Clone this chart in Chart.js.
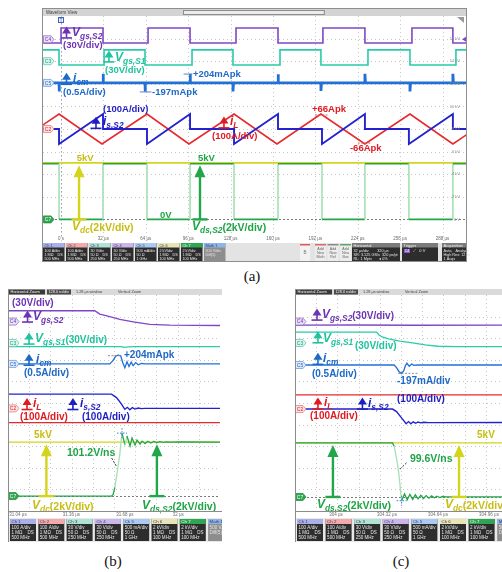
<!DOCTYPE html>
<html>
<head>
<meta charset="utf-8">
<title>Half-bridge switching waveforms</title>
<script src="https://cdn.jsdelivr.net/npm/chart.js@4.4.1/dist/chart.umd.min.js"></script>
<style>
  html, body { margin: 0; padding: 0; background: #fff; }
  body { position: relative; width: 502px; height: 572px; overflow: hidden; }
  .panel { position: absolute; }
  .panel canvas { display: block; }
  .cap { position: absolute; width: 40px; margin-left: -20px; text-align: center;
         font: 15px "Liberation Serif", "Times New Roman", serif; color: #111; }
</style>
</head>
<body>
<div class="panel" style="left:38px;top:8px"><canvas id="chartA" width="432" height="256"></canvas></div>
<div class="panel" style="left:4px;top:287px"><canvas id="chartB" width="218" height="258"></canvas></div>
<div class="panel" style="left:288px;top:287px"><canvas id="chartC" width="232" height="258"></canvas></div>
<div class="cap" style="left:252px;top:268px">(a)</div>
<div class="cap" style="left:113px;top:553px">(b)</div>
<div class="cap" style="left:401px;top:553px">(c)</div>
<script>
(function () {
  'use strict';

  // ---- values read off the scope screens: [time µs, value] ----
  // gate voltages in V, currents in A, voltages in kV

  // (a) full switching periods
  const aTicks = [0, 32, 64, 96, 128, 160, 192, 224, 256, 288];
  const aTickLabels = ['0 s', '32 µs', '64 µs', '96 µs', '128 µs', '160 µs', '192 µs', '224 µs', '256 µs', '288 µs'];
  const aVgsS2 = [[-14.4, -5], [0, -5], [0, 15], [31.7, 15], [31.7, -5], [65.7, -5], [65.7, 15], [97.4, 15], [97.4, -5],
    [132.1, -5], [132.1, 15], [163.8, 15], [163.8, -5], [197.7, -5], [197.7, 15], [229.4, 15], [229.4, -5],
    [264.9, -5], [264.9, 15], [295.8, 15], [295.8, -5], [306, -5]];
  const aVgsS1 = [[-14.4, 15], [-1.5, 15], [-1.5, -5], [32.5, -5], [32.5, 15], [63.4, 15], [63.4, -5], [98.9, -5],
    [98.9, 15], [129.8, 15], [129.8, -5], [165.3, -5], [165.3, 15], [196.2, 15], [196.2, -5], [231.7, -5],
    [231.7, 15], [263.4, 15], [263.4, -5], [298.1, -5], [298.1, 15], [306, 15]];
  const aIcm = [[-14.4, 0], [-1.5, 0], [-1.5, -0.19], [-1.1, 0], [31.7, 0], [31.7, 0.2], [32.1, 0], [63.4, 0],
    [63.4, -0.197], [63.8, 0], [97.4, 0], [97.4, 0.204], [97.8, 0], [129.8, 0], [129.8, -0.19], [130.2, 0],
    [163.8, 0], [163.8, 0.19], [164.2, 0], [196.2, 0], [196.2, -0.18], [196.6, 0], [229.4, 0], [229.4, 0.2],
    [229.8, 0], [263.4, 0], [263.4, -0.19], [263.8, 0], [295.8, 0], [295.8, 0.2], [296.2, 0], [306, 0]];
  const aIL = [[-14.4, 15], [-1.5, 66], [30.9, -66], [64.9, 66], [96.6, -66], [130.6, 66], [163, -66],
    [196.2, 66], [229.4, -66], [263.4, 66], [295.8, -66], [306, -26]];
  const aIsS2 = [[-14.4, 0], [-1.5, 0], [-1.5, -66], [31.7, 66], [31.7, 0], [64.9, 0], [64.9, -66], [97.4, 66],
    [97.4, 0], [130.6, 0], [130.6, -66], [163.8, 66], [163.8, 0], [197, 0], [197, -66], [229.4, 66], [229.4, 0],
    [262.6, 0], [262.6, -66], [295.8, 66], [295.8, 0], [306, 0]];
  const aVdc = [[-14.4, 5], [306, 5]];
  const aVds = [[-14.4, 4.93], [-1.5, 4.93], [-1.5, 0], [31.7, 0], [31.7, 4.93], [64.9, 4.93], [64.9, 0], [97.4, 0],
    [97.4, 4.93], [130.6, 4.93], [130.6, 0], [163.8, 0], [163.8, 4.93], [197, 4.93], [197, 0], [229.4, 0],
    [229.4, 4.93], [262.6, 4.93], [262.6, 0], [295.8, 0], [295.8, 4.93], [306, 4.93]];

  // (b) S2 turn-off, zoomed
  const bTicks = [31.04, 31.36, 31.68, 32];
  const bTickLabels = ['31.04 µs', '31.36 µs', '31.68 µs', '32 µs'];
  const bVgsS2 = [[30.9, 15], [31.5, 15], [31.53, 10.4], [31.59, 6.7], [31.65, 3], [31.73, -0.3], [31.83, -3.9],
    [31.95, -5], [32.3, -5.5]];
  const bVgsS1 = [[30.9, -5], [31.66, -5], [31.675, -6.2], [31.7, -5.5], [31.74, -5], [32.3, -5]];
  const bIcm = [[30.9, 0], [31.59, 0], [31.61, 0.08], [31.625, 0.18], [31.64, 0.204], [31.655, 0.19],
    [31.668, 0.02], [31.68, -0.09], [31.693, 0.05], [31.705, -0.06], [31.718, 0.04], [31.73, -0.04],
    [31.745, 0.03], [31.76, -0.02], [31.78, 0.01], [31.8, 0], [32.3, 0]];
  const bIsS2 = [[30.9, 66], [31.6, 66], [31.63, 50], [31.66, 20], [31.68, -4], [31.695, 5], [31.71, -6],
    [31.725, 4], [31.74, -3], [31.76, 2], [31.78, -1], [31.8, 0], [32.3, 0]];
  const bIL = [[30.9, -66], [32.3, -66]];
  const bVdc = [[30.9, 5], [32.3, 5]];
  const bVds = [[30.9, 0], [31.6, 0], [31.61, 0.15], [31.62, 0.8], [31.635, 2.3], [31.65, 3.9], [31.657, 5],
    [31.663, 5.83], [31.681, 4.72], [31.693, 5.56], [31.711, 4.63], [31.723, 5.37], [31.741, 4.72],
    [31.753, 5.19], [31.771, 4.81], [31.783, 5.09], [31.801, 4.86], [31.818, 5.08], [31.836, 4.92],
    [31.854, 5.06], [31.872, 4.95], [31.89, 5.04], [31.91, 4.97], [31.93, 5.02], [31.96, 4.99], [32, 5.01],
    [32.3, 5]];

  // (c) S2 turn-on, zoomed
  const cTicks = [304, 304.32, 304.64, 304.96];
  const cTickLabels = ['304 µs', '304.32 µs', '304.64 µs', '304.96 µs'];
  const cVgsS2 = [[303.7, -5], [304.1, -4.8], [304.5, -5.1], [305.1, -5]];
  const cVgsS1 = [[303.7, 15], [304.255, 15], [304.27, 11], [304.29, 8.3], [304.33, 5.5], [304.4, 2.5],
    [304.48, 0], [304.56, -2.8], [304.64, -4.6], [304.75, -5], [305.1, -5]];
  const cIcm = [[303.7, 0], [304.365, 0], [304.38, -0.06], [304.395, -0.15], [304.41, -0.197], [304.425, -0.14],
    [304.435, -0.02], [304.445, 0.04], [304.46, -0.03], [304.475, 0.02], [304.49, -0.01], [304.51, 0], [305.1, 0]];
  const cIsS2 = [[303.7, 0], [304.355, 0], [304.38, -12], [304.41, -40], [304.44, -68], [304.455, -58],
    [304.47, -68], [304.485, -59], [304.5, -66], [304.515, -60], [304.53, -64], [304.55, -61], [304.58, -63],
    [305.1, -62]];
  const cIL = [[303.7, 66], [305.1, 66]];
  const cVdc = [[303.7, 5], [305.1, 5]];
  const cVds = [[303.7, 5], [304.355, 5], [304.365, 4.7], [304.38, 3.6], [304.395, 2.1], [304.405, 0.6],
    [304.412, -0.35], [304.43, 0.28], [304.447, -0.26], [304.464, 0.24], [304.481, -0.22], [304.498, 0.2],
    [304.515, -0.18], [304.532, 0.16], [304.549, -0.14], [304.566, 0.13], [304.583, -0.11], [304.6, 0.1],
    [304.617, -0.08], [304.634, 0.07], [304.651, -0.05], [304.668, 0.04], [304.69, 0], [305.1, 0]];

  // channel readout boxes
  const chanNames = ['Ch 1', 'Ch 2', 'Ch 3', 'Ch 4', 'Ch 5', 'Ch 6', 'Ch 7', 'Math 1'];
  const chanRows = [
    ['100 A/div', '1 MΩ    DS', '500 MHz'], ['100 A/div', '1 MΩ    DS', '500 MHz'],
    ['30 V/div', '50 Ω    DS', '250 MHz'], ['30 V/div', '50 Ω    DS', '250 MHz'],
    ['500 mA/div', '50 Ω', '1 GHz'], ['2 kV/div', '1 MΩ    DS', '100 MHz'],
    ['2 kV/div', '1 MΩ    DS', '100 MHz'], ['500 V/div', 'Diff(5)', '']];
  const chanHeads = ['#aab0ea', '#f3aaaa', '#afe3d4', '#cab6eb', '#abc9f1', '#e8e4b4', '#2ea552', '#8fb5e6'];

  // vertical scales (per division)
  const VGS_DIV = 30, ICM_DIV = 0.5, AMP_DIV = 100, KV_DIV = 2;

  const FONT = '"Liberation Sans", Arial, Helvetica, sans-serif';
  const C = {
    purple: '#7f47c8', purpleTxt: '#6c34b4',
    teal: '#29cca7', tealTxt: '#1fc39d',
    blue: '#2170d6', blueTxt: '#1e69c6',
    dblue: '#2222cf', dblueTxt: '#1e1ec0',
    red: '#e6292d', redTxt: '#e01a20',
    yellow: '#d4d41c', yellowTxt: '#c8be12',
    green: '#22a64a', greenTxt: '#1fa446', greenEdge: '#a4e1b2'
  };

  // ---- small drawing helpers ----
  function seg(ctx, x0, y0, x1, y1) {
    ctx.beginPath(); ctx.moveTo(x0, y0); ctx.lineTo(x1, y1); ctx.stroke();
  }
  function tiny(ctx, s, x, y, color, size, align) {
    ctx.fillStyle = color;
    ctx.font = size + 'px ' + FONT;
    ctx.textAlign = align || 'left';
    ctx.textBaseline = 'middle';
    ctx.fillText(s, x, y);
  }
  function rich(ctx, x, y, parts, color, main, plain) {
    ctx.fillStyle = color; ctx.textAlign = 'left'; ctx.textBaseline = 'middle';
    let cx = x;
    parts.forEach(([s, k]) => {
      let size = plain, style = 'bold', dy = 0;
      if (k === 'i') { size = main; style = 'italic bold'; }
      if (k === 's') { size = main * 0.7; style = 'italic bold'; dy = main * 0.32; }
      if (k === 'n' && parts.length > 1) dy = 1;
      ctx.font = style + ' ' + size + 'px ' + FONT;
      ctx.fillText(s, cx, y + dy);
      cx += ctx.measureText(s).width;
    });
  }
  function upIcon(ctx, x, y, c) {
    ctx.strokeStyle = c; ctx.fillStyle = c; ctx.lineWidth = 1.6; ctx.setLineDash([]);
    seg(ctx, x - 5.5, y + 5, x + 5.5, y + 5);
    seg(ctx, x, y + 5, x, y - 1);
    ctx.beginPath(); ctx.moveTo(x - 4.5, y + 0.5); ctx.lineTo(x + 4.5, y + 0.5); ctx.lineTo(x, y - 6.5);
    ctx.closePath(); ctx.fill();
  }
  function bigArrow(ctx, x, yBase, yTip, c) {
    ctx.strokeStyle = c; ctx.fillStyle = c; ctx.lineWidth = 2.4; ctx.setLineDash([]);
    seg(ctx, x - 7.5, yBase, x + 7.5, yBase);
    seg(ctx, x, yBase, x, yTip + 10);
    ctx.beginPath(); ctx.moveTo(x - 5.5, yTip + 12); ctx.lineTo(x + 5.5, yTip + 12); ctx.lineTo(x, yTip);
    ctx.closePath(); ctx.fill();
  }
  function chMark(ctx, x, y, label, fill, stroke, ink) {
    ctx.setLineDash([]); ctx.lineWidth = 0.8;
    ctx.beginPath();
    ctx.moveTo(x, y - 3.5); ctx.lineTo(x + 7.5, y - 3.5); ctx.lineTo(x + 10.5, y);
    ctx.lineTo(x + 7.5, y + 3.5); ctx.lineTo(x, y + 3.5); ctx.closePath();
    ctx.fillStyle = fill; ctx.fill(); ctx.strokeStyle = stroke; ctx.stroke();
    tiny(ctx, label, x + 4.5, y + 0.3, ink, 5, 'center');
  }
  function chanBoxes(ctx, x0, y0, w, pitch, h, head) {
    chanNames.forEach((name, i) => {
      const x = x0 + i * pitch;
      ctx.fillStyle = i === 7 ? '#8d8d8d' : '#2d2d2d';
      ctx.fillRect(x, y0, w, h);
      ctx.fillStyle = chanHeads[i];
      ctx.fillRect(x, y0, w, head);
      tiny(ctx, name, x + 1.5, y0 + head / 2 + 0.3, i === 6 ? '#fff' : '#3a3a6a', head - 0.6);
      const step = (h - head - 1.5) / 3;
      chanRows[i].forEach((r, j) => tiny(ctx, r, x + 1.5, y0 + head + 1 + step * (j + 0.5), '#e6e6e6', step - 0.6));
    });
  }

  function makeTrace(points, off, perDiv, color, width, edge) {
    const set = {
      data: points.map(p => ({ x: p[0], y: off + p[1] / perDiv })),
      borderColor: color, borderWidth: width, pointRadius: 0, fill: false, tension: 0
    };
    if (edge) {
      // fast edges are faint on the scope screen
      set.segment = {
        borderColor: c => Math.abs(c.p1.y - c.p0.y) > 3 * Math.abs(c.p1.x - c.p0.x) + 3 ? edge : undefined
      };
    }
    return set;
  }

  const T = (t, d, c, parts, main, plain) => ({ k: 'txt', t, d, c, parts, main, plain });
  const I = (t, d, c) => ({ k: 'icon', t, d, c });
  const M = (t0, d0, t1, d1, c, dash) => ({ k: 'mark', t0, d0, t1, d1, c, dash });
  const A = (t, c) => ({ k: 'arrow', t, c });
  const X = (t, kv) => ({ k: 'cross', t, kv });

  // ---- panel chrome ----
  function chromeA(ctx, a, px, py, p) {
    ctx.setLineDash([]);
    ctx.fillStyle = '#d4d4d4'; ctx.fillRect(a.left - 1, a.top - 7, a.width + 2, 7);
    tiny(ctx, 'Waveform View', a.left + 3, a.top - 3.5, '#3c3c3c', 4.5);
    ctx.fillStyle = '#ececec'; ctx.fillRect(a.left + a.width * 0.331, a.top - 6, a.width * 0.333, 4);
    ctx.strokeStyle = '#8d8d8d'; ctx.lineWidth = 1;
    ctx.strokeRect(a.left + a.width * 0.331 + 0.5, a.top - 5.5, a.width * 0.333, 4);
    // trigger position flag
    const tx = px(0);
    ctx.fillStyle = '#eef3ff'; ctx.fillRect(tx - 3, a.top + 1, 6, 6);
    ctx.strokeStyle = '#3f63b5'; ctx.strokeRect(tx - 2.5, a.top + 1.5, 5, 5);
    tiny(ctx, 'T', tx, a.top + 4.3, '#3f63b5', 5, 'center');
    // corner flag and trigger level
    ctx.fillStyle = '#9a9a9a';
    ctx.beginPath(); ctx.moveTo(a.right - 9, a.top + 1); ctx.lineTo(a.right - 2, a.top + 1); ctx.lineTo(a.right - 2, a.top + 7); ctx.fill();
    ctx.fillStyle = C.purple;
    const ty = py(p.off.vgs2);
    ctx.beginPath(); ctx.moveTo(a.right, ty - 2.5); ctx.lineTo(a.right, ty + 2.5); ctx.lineTo(a.right - 4, ty); ctx.fill();
    // right-hand scale of the selected channel
    for (let i = -4; i <= 4; i++) {
      const v = (i - p.off.kv) * KV_DIV;
      tiny(ctx, v === 0 ? '0 V' : v + ' kV', a.right - 6, py(i), '#8a8a8a', 4, 'right');
    }
    p.ticks.forEach((t, i) => tiny(ctx, p.tickLabels[i], px(t), a.bottom - 3, '#6a6a6a', 4.5, 'center'));
    // readout bar
    const yb = a.bottom + 1;
    ctx.fillStyle = '#e3e3e3'; ctx.fillRect(a.left, yb, a.width, 19);
    chanBoxes(ctx, a.left, yb, 21.5, 23, 19, 4.5);
    ctx.fillStyle = '#f2f2f2'; ctx.fillRect(a.left + 257, yb + 1, 10, 17);
    ctx.fillStyle = '#e05a5a'; ctx.fillRect(a.left + 257, yb + 1, 10, 1.5);
    tiny(ctx, 'B', a.left + 262, yb + 10, '#777', 4.5, 'center');
    [['#d86a6a', 'Math'], ['#8a8a8a', 'Ref'], ['#5aa86a', 'Bus']].forEach(([c, s], i) => {
      const x = a.left + 272 + i * 12.5;
      ctx.fillStyle = '#ececec'; ctx.fillRect(x, yb + 1, 11, 17);
      ctx.fillStyle = c; ctx.fillRect(x, yb + 1, 11, 1.5);
      tiny(ctx, 'Add', x + 5.5, yb + 6, '#666', 3.6, 'center');
      tiny(ctx, 'New', x + 5.5, yb + 10, '#666', 3.6, 'center');
      tiny(ctx, s, x + 5.5, yb + 14, '#666', 3.6, 'center');
    });
    const side = [
      [309, 48, 'Horizontal', ['32 µs/div        320 µs', 'SR: 3.125 GS/s  320 ps/pt', 'RL: 1 Mpts       ◂ 0%']],
      [359, 36, 'Trigger', ['', '', '']],
      [399, 24, 'Acquisition', ['Auto,   Analyze', 'High Res: 12 Bits', '1 Acqs']]];
    side.forEach(([dx, w, head, rows]) => {
      const x = a.left + dx;
      ctx.fillStyle = '#2d2d2d'; ctx.fillRect(x, yb, Math.min(w, a.right - x), 19);
      ctx.fillStyle = '#7b7b7b'; ctx.fillRect(x, yb, Math.min(w, a.right - x), 4.5);
      tiny(ctx, head, x + 1.5, yb + 2.5, '#f0f0f0', 4);
      rows.forEach((r, j) => tiny(ctx, r, x + 1.5, yb + 7.5 + j * 4.3, '#e2e2e2', 3.8));
    });
    ctx.fillStyle = '#8c55d0'; ctx.fillRect(a.left + 361, yb + 6, 6, 4);
    tiny(ctx, 'C4', a.left + 364, yb + 8, '#fff', 3.6, 'center');
    tiny(ctx, '⟋   0 V', a.left + 370, yb + 8, '#e2e2e2', 4);
    ctx.strokeStyle = '#8e8e8e'; ctx.lineWidth = 1;
    ctx.strokeRect(a.left - 0.5, a.top - 7.5, a.width + 1, a.height + 27);
  }

  function chromeZoom(ctx, a, px, py, p) {
    ctx.setLineDash([]);
    ctx.fillStyle = '#dadada'; ctx.fillRect(a.left, a.top - 6, a.width + 20, 6);
    ctx.fillStyle = '#3a3a3a'; ctx.fillRect(a.left + 1, a.top - 5.5, 36, 5);
    tiny(ctx, 'Horizontal Zoom', a.left + 2.5, a.top - 3, '#f2f2f2', 4);
    ctx.fillStyle = '#4a4a4a'; ctx.fillRect(a.left + 39, a.top - 5.5, 24, 5);
    tiny(ctx, '128.0 ns/div', a.left + 40.5, a.top - 3, '#f2f2f2', 3.8);
    tiny(ctx, '1.28 µs window', a.left + 68, a.top - 3, '#444', 3.8);
    tiny(ctx, 'Vertical Zoom', a.left + 110, a.top - 3, '#444', 3.8);
    ctx.strokeStyle = '#8c8c8c'; ctx.lineWidth = 1;
    seg(ctx, a.left + 0.5, a.top - 6, a.left + 0.5, a.bottom + 31);
    seg(ctx, a.left, a.bottom + 0.5, a.right + 20, a.bottom + 0.5);
    p.ticks.forEach((t, i) => tiny(ctx, p.tickLabels[i], px(t), a.bottom + 3.6, '#707070', 4.5, 'center'));
    ctx.fillStyle = '#e8e8e8'; ctx.fillRect(a.left + 1, a.bottom + 7, a.width + 20, 24);
    chanBoxes(ctx, a.left + 2, a.bottom + 8, 26, p.boxPitch, 22, 5);
  }

  function scopeDecor(p) {
    return {
      id: 'scopeDecor',
      beforeDatasetsDraw(chart) {
        const { ctx, chartArea: a, scales } = chart;
        const px = v => scales.x.getPixelForValue(v), py = v => scales.y.getPixelForValue(v);
        ctx.save();
        ctx.fillStyle = '#fff'; ctx.fillRect(a.left, a.top, a.width, a.height);
        ctx.strokeStyle = '#c8c8c8'; ctx.lineWidth = 1; ctx.setLineDash([1, 3]);
        for (let i = 1; i < 10; i++) {
          const yy = Math.round(a.top + a.height * i / 10) + 0.5;
          seg(ctx, a.left, yy, a.right, yy);
        }
        const gx = p.gridT ? p.gridT.map(px) : [1, 2, 3, 4, 5, 6, 7, 8, 9].map(i => a.left + a.width * i / 10);
        gx.forEach(xx => seg(ctx, Math.round(xx) + 0.5, a.top, Math.round(xx) + 0.5, a.bottom));
        if (p.trigger !== undefined) {
          ctx.strokeStyle = '#8ea2c8';
          const tx = Math.round(px(p.trigger)) + 0.5;
          seg(ctx, tx, a.top + 7, tx, a.bottom - 6);
        }
        ctx.strokeStyle = '#7a7a7a'; ctx.setLineDash([2, 2]);
        const y0 = Math.round(py(p.off.kv)) + 0.5;
        seg(ctx, a.left, y0, a.right, y0);
        ctx.restore();
      },
      afterDatasetsDraw(chart) {
        const { ctx, chartArea: a, scales } = chart;
        const px = v => scales.x.getPixelForValue(v), py = v => scales.y.getPixelForValue(v);
        const o = p.off;
        ctx.save();
        p.notes.forEach(n => {
          if (n.k === 'txt') rich(ctx, px(n.t), py(n.d), n.parts, n.c, n.main, n.plain);
          else if (n.k === 'icon') upIcon(ctx, px(n.t), py(n.d), n.c);
          else if (n.k === 'arrow') bigArrow(ctx, px(n.t), py(o.kv), py(o.kv + 4.8 / KV_DIV), n.c);
          else if (n.k === 'mark') {
            ctx.strokeStyle = n.c; ctx.lineWidth = 1; ctx.setLineDash(n.dash ? [2, 1.5] : []);
            seg(ctx, px(n.t0), py(n.d0), px(n.t1), py(n.d1));
          } else if (n.k === 'cross') {
            const cx = px(n.t), cy = py(o.kv + n.kv / KV_DIV);
            ctx.strokeStyle = '#3b7ad8'; ctx.lineWidth = 1; ctx.setLineDash([1.5, 1.5]);
            seg(ctx, cx - 5, cy, cx + 5, cy); seg(ctx, cx, cy - 5, cx, cy + 5);
          }
          ctx.setLineDash([]);
        });
        chMark(ctx, a.left + 0.5, py(o.vgs2), 'C4', '#ebe2f8', '#9470cc', C.purpleTxt);
        chMark(ctx, a.left + 0.5, py(o.vgs1), 'C3', '#dcf6ef', '#5ccdae', '#1a9a7c');
        chMark(ctx, a.left + 0.5, py(o.icm), 'C5', '#dfeafb', '#6f9be0', C.blueTxt);
        chMark(ctx, a.left + 0.5, py(o.amp), 'C2', '#fde3e3', '#e38282', C.redTxt);
        chMark(ctx, a.left + 0.5, py(o.kv), 'C7', '#2fa552', '#23903f', '#fff');
        ctx.restore();
      },
      afterDraw(chart) {
        const { ctx, chartArea: a, scales } = chart;
        const px = v => scales.x.getPixelForValue(v), py = v => scales.y.getPixelForValue(v);
        ctx.save();
        p.chrome(ctx, a, px, py, p);
        ctx.restore();
      }
    };
  }

  function makeScope(id, p, src) {
    const o = p.off, w = p.width;
    const datasets = [
      makeTrace(src.is2, o.amp, AMP_DIV, C.dblue, w.is2),
      makeTrace(src.il, o.amp, AMP_DIV, C.red, w.il),
      makeTrace(src.icm, o.icm, ICM_DIV, C.blue, w.icm),
      makeTrace(src.vds, o.kv, KV_DIV, C.green, w.v, C.greenEdge),
      makeTrace(src.vdc, o.kv, KV_DIV, C.yellow, w.v),
      makeTrace(src.vgs1, o.vgs1, VGS_DIV, C.teal, w.g),
      makeTrace(src.vgs2, o.vgs2, VGS_DIV, C.purple, w.g)
    ];
    return new Chart(document.getElementById(id), {
      type: 'line',
      data: { datasets },
      options: {
        responsive: false,
        animation: false,
        events: [],
        layout: { padding: p.pad },
        plugins: { legend: { display: false }, tooltip: { enabled: false } },
        elements: { line: { borderCapStyle: 'butt', borderJoinStyle: 'miter' } },
        scales: {
          x: { type: 'linear', min: p.xMin, max: p.xMax, display: false },
          y: { type: 'linear', min: -5, max: 5, display: false }
        }
      },
      plugins: [scopeDecor(p)]
    });
  }

  // ---- panel (a) ----
  makeScope('chartA', {
    xMin: -13.6, xMax: 305.7,
    pad: { left: 5, right: 4, top: 8, bottom: 22 },
    off: { vgs2: 3.97, vgs1: 3.0, icm: 2.04, amp: 0, kv: -4.0 },
    width: { g: 1.6, icm: 2.8, is2: 1.9, il: 1.6, v: 1.6 },
    ticks: aTicks, tickLabels: aTickLabels, gridT: aTicks, trigger: 0,
    chrome: chromeA,
    notes: [
      I(4.15, 4.25, C.purpleTxt), T(8.3, 4.25, C.purpleTxt, [['V', 'i'], ['gs,S2', 's']], 12, 9.5),
      T(1.5, 3.72, C.purpleTxt, [['(30V/div)', 'n']], 12, 9.5),
      I(36.2, 3.19, C.tealTxt), T(40.8, 3.17, C.tealTxt, [['V', 'i'], ['gs,S1', 's']], 12, 9.5),
      T(33.2, 2.61, C.tealTxt, [['(30V/div)', 'n']], 12, 9.5),
      I(4.15, 2.2, C.blueTxt), T(9.1, 2.21, C.blueTxt, [['i', 'i'], ['cm', 's']], 12, 9.5),
      T(1.5, 1.64, C.blueTxt, [['(0.5A/div)', 'n']], 12, 9.5),
      M(92.5, 2.43, 99.2, 2.43, '#5d86c4'), T(99.6, 2.43, C.blueTxt, [['+204mApk', 'n']], 12, 9.5),
      M(59.5, 1.64, 68.3, 1.64, '#5d86c4'), T(68.7, 1.64, C.blueTxt, [['-197mApk', 'n']], 12, 9.5),
      T(31.7, 0.88, C.dblueTxt, [['(100A/div)', 'n']], 12, 9.5),
      I(26.4, 0.25, C.dblueTxt), T(31.7, 0.33, C.dblueTxt, [['i', 'i'], ['s,S2', 's']], 12, 9.5),
      I(123, 0.27, C.redTxt), T(127.5, 0.33, C.redTxt, [['i', 'i'], ['L', 's']], 12, 9.5),
      T(114, -0.31, C.redTxt, [['(100A/div)', 'n']], 12, 9.5),
      M(191.7, 0.62, 201.5, 0.62, '#d06060', true), T(189.4, 0.88, C.redTxt, [['+66Apk', 'n']], 12, 9.5),
      M(224, -0.62, 234.7, -0.62, '#d06060', true), T(218.1, -0.84, C.redTxt, [['-66Apk', 'n']], 12, 9.5),
      T(11.8, -1.28, C.yellowTxt, [['5kV', 'n']], 12, 9.5),
      T(103.4, -1.28, C.greenTxt, [['5kV', 'n']], 12, 9.5),
      T(74.7, -3.8, C.greenTxt, [['0V', 'n']], 12, 9.5),
      T(8.3, -4.34, C.yellowTxt, [['V', 'i'], ['dc', 's'], ['(2kV/div)', 'n']], 12, 10.5),
      T(98.9, -4.34, C.greenTxt, [['V', 'i'], ['ds,S2', 's'], ['(2kV/div)', 'n']], 12, 10.5),
      A(13.6, C.yellow), A(104.9, C.green)
    ]
  }, { vgs2: aVgsS2, vgs1: aVgsS1, icm: aIcm, il: aIL, is2: aIsS2, vdc: aVdc, vds: aVds });

  // ---- panel (b) ----
  makeScope('chartB', {
    xMin: 30.98, xMax: 32.25,
    pad: { left: 4, right: 2, top: 8, bottom: 34 },
    off: { vgs2: 3.77, vgs1: 2.78, icm: 1.81, amp: -0.25, kv: -4.31 },
    width: { g: 1.3, icm: 1.3, is2: 1.4, il: 1.3, v: 1.3 },
    ticks: bTicks, tickLabels: bTickLabels, boxPitch: 28.3,
    chrome: chromeZoom,
    notes: [
      T(31.004, 4.63, C.purpleTxt, [['(30V/div)', 'n']], 12, 10),
      I(31.097, 3.98, C.purpleTxt), T(31.13, 3.98, C.purpleTxt, [['V', 'i'], ['gs,S2', 's']], 12, 10),
      I(31.106, 2.96, C.tealTxt),
      T(31.142, 2.96, C.tealTxt, [['V', 'i'], ['gs,S1', 's'], ['(30V/div)', 'n']], 12, 10),
      I(31.106, 1.98, C.blueTxt), T(31.148, 2.02, C.blueTxt, [['i', 'i'], ['cm', 's']], 12, 10),
      T(31.076, 1.39, C.blueTxt, [['(0.5A/div)', 'n']], 12, 10),
      M(31.579, 2.19, 31.663, 2.19, '#8c8c8c', true),
      T(31.675, 2.22, C.blueTxt, [['+204mApk', 'n']], 12, 10),
      I(31.094, -0.07, C.redTxt), T(31.13, -0.05, C.redTxt, [['i', 'i'], ['L', 's']], 12, 10),
      I(31.369, -0.07, C.dblueTxt), T(31.411, -0.05, C.dblueTxt, [['i', 'i'], ['s,S2', 's']], 12, 10),
      T(31.052, -0.65, C.redTxt, [['(100A/div)', 'n']], 12, 10),
      T(31.423, -0.65, C.dblueTxt, [['(100A/div)', 'n']], 12, 10),
      T(31.136, -1.48, C.yellowTxt, [['5kV', 'n']], 12, 10),
      M(31.601, -2.55, 31.631, -2.95, '#333', true),
      T(31.333, -2.31, C.greenTxt, [['101.2V/ns', 'n']], 12, 10.5),
      T(31.124, -4.77, C.yellowTxt, [['V', 'i'], ['dc', 's'], ['(2kV/div)', 'n']], 12, 10.5),
      T(31.783, -4.77, C.greenTxt, [['V', 'i'], ['ds,S2', 's'], ['(2kV/div)', 'n']], 12, 10.5),
      A(31.21, C.yellow), A(31.872, C.green), X(31.663, 5.83)
    ]
  }, { vgs2: bVgsS2, vgs1: bVgsS1, icm: bIcm, il: bIL, is2: bIsS2, vdc: bVdc, vds: bVds });

  // ---- panel (c) ----
  makeScope('chartC', {
    xMin: 303.743, xMax: 305.073,
    pad: { left: 7, right: 13, top: 8, bottom: 34 },
    off: { vgs2: 3.77, vgs1: 2.78, icm: 1.76, amp: -0.28, kv: -4.35 },
    width: { g: 1.3, icm: 1.3, is2: 1.4, il: 1.3, v: 1.3 },
    ticks: cTicks, tickLabels: cTickLabels, boxPitch: 28.6,
    chrome: chromeZoom,
    notes: [
      I(303.881, 4.07, C.purpleTxt),
      T(303.912, 4.07, C.purpleTxt, [['V', 'i'], ['gs,S2', 's'], ['(30V/div)', 'n']], 12, 10),
      I(303.887, 3.02, C.tealTxt), T(303.918, 2.96, C.tealTxt, [['V', 'i'], ['gs,S1', 's']], 12, 10),
      T(304.119, 2.64, C.tealTxt, [['(30V/div)', 'n']], 12, 10),
      I(303.887, 2.02, C.blueTxt), T(303.918, 2.06, C.blueTxt, [['i', 'i'], ['cm', 's']], 12, 10),
      T(303.849, 1.34, C.blueTxt, [['(0.5A/div)', 'n']], 12, 10),
      M(304.389, 1.375, 304.514, 1.375, '#8c8c8c', true),
      T(304.383, 1.02, C.blueTxt, [['-197mA/div', 'n']], 12, 10),
      I(303.887, -0.05, C.redTxt), T(303.925, 0, C.redTxt, [['i', 'i'], ['L', 's']], 12, 10),
      I(304.166, -0.05, C.dblueTxt), T(304.201, -0.02, C.dblueTxt, [['i', 'i'], ['s,S2', 's']], 12, 10),
      T(304.383, 0.19, C.dblueTxt, [['(100A/div)', 'n']], 12, 10),
      T(303.837, -0.6, C.redTxt, [['(100A/div)', 'n']], 12, 10),
      T(304.885, -1.48, C.yellowTxt, [['5kV', 'n']], 12, 10),
      M(304.402, -3.06, 304.444, -2.76, '#333', true),
      T(304.464, -2.59, C.greenTxt, [['99.6V/ns', 'n']], 12, 10.5),
      T(303.881, -4.72, C.greenTxt, [['V', 'i'], ['ds,S2', 's'], ['(2kV/div)', 'n']], 12, 10.5),
      T(304.684, -4.72, C.yellowTxt, [['V', 'i'], ['dc', 's'], ['(2kV/div)', 'n']], 12, 10.5),
      A(303.981, C.green), A(304.772, C.yellow), X(304.412, -0.35)
    ]
  }, { vgs2: cVgsS2, vgs1: cVgsS1, icm: cIcm, il: cIL, is2: cIsS2, vdc: cVdc, vds: cVds });
})();
</script>
</body>
</html>
